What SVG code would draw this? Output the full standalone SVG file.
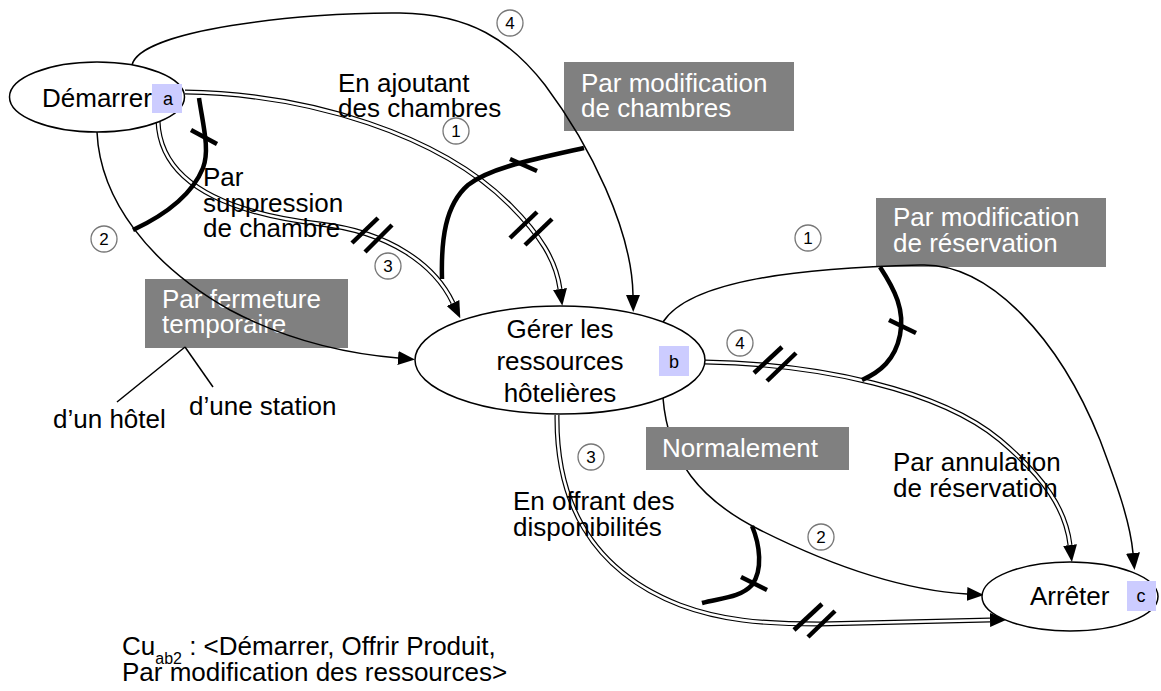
<svg xmlns="http://www.w3.org/2000/svg" width="1161" height="691" viewBox="0 0 1161 691">
<style>
text{font-family:"Liberation Sans",Arial,sans-serif;fill:#000}
.t{font-size:26px}
.w{font-size:26px;fill:#fff}
.mid{text-anchor:middle}
.tag{font-size:18px;text-anchor:middle}
.num{font-size:17px;text-anchor:middle}
.node{fill:#fff;stroke:#000;stroke-width:1.5}
.tagbox{fill:#ccccff}
.gbox{fill:#808080}
.thin{fill:none;stroke:#000;stroke-width:1.5}
.heavy{fill:none;stroke:#000;stroke-width:4.5}
.dblo{fill:none;stroke:#000;stroke-width:5}
.dbli{fill:none;stroke:#fff;stroke-width:2.6}
.tick{stroke:#000;stroke-width:4.5}
.circ{fill:#fff;stroke:#777;stroke-width:1.3}
.lead{stroke:#000;stroke-width:1.5}
</style>
<defs>
<marker id="arr" markerWidth="17" markerHeight="14" refX="0" refY="7" orient="auto" markerUnits="userSpaceOnUse"><path d="M0,0 L17,7 L0,14 z" fill="#000"/></marker>
</defs>

<g id="label-fermeture">
<rect class="gbox" x="145" y="279" width="203" height="69"/>
<text class="w" x="162" y="308">Par fermeture</text>
<text class="w" x="162" y="333">temporaire</text>
<line class="lead" x1="185" y1="347" x2="117" y2="402"/>
<line class="lead" x1="185" y1="347" x2="213" y2="387"/>
<text class="t" x="53" y="428">d’un hôtel</text>
<text class="t" x="189" y="415">d’une station</text>
</g>
<g id="label-modif-chambres">
<rect class="gbox" x="564" y="62" width="230" height="69"/>
<text class="w" x="581" y="92">Par modification</text>
<text class="w" x="581" y="117">de chambres</text>
</g>
<g id="label-modif-reservation">
<rect class="gbox" x="876" y="198" width="230" height="69"/>
<text class="w" x="893" y="226">Par modification</text>
<text class="w" x="893" y="252">de réservation</text>
</g>

<g id="connectors">
<!-- 4 top: Demarrer -> Gerer -->
<path class="thin" d="M132,65 C140,30 300,12 400,13 C470,14 510,40 545,85 C590,145 632,230 633,295" marker-end="url(#arr)"/>
<!-- 1 double: Demarrer -> Gerer -->
<path class="dblo" d="M185,92 C310,94 440,135 510,205 C540,235 556,260 560,289" marker-end="url(#arr)"/>
<path class="dbli" d="M185,92 C310,94 440,135 510,205 C540,235 556,260 560,289"/>
<!-- 3 double: Demarrer -> Gerer -->
<path class="dblo" d="M158,121 C160,180 220,212 320,224 C390,232 435,265 453,303" marker-end="url(#arr)"/>
<path class="dbli" d="M158,121 C160,180 220,212 320,224 C390,232 435,265 453,303"/>
<!-- 2 thin: Demarrer -> Gerer -->
<path class="thin" d="M97,132 C100,200 150,265 230,310 C290,342 350,354 398,358" marker-end="url(#arr)"/>
<!-- heavy: par suppression -->
<path class="heavy" d="M199,98 C203,125 210,150 203,168 C192,195 165,215 133,230"/>
<!-- heavy: par modification de chambres -->
<path class="heavy" d="M584,148 C530,160 490,168 468,185 C445,205 441,240 442,279"/>
<!-- 1 right thin: Gerer -> Arreter -->
<path class="thin" d="M663,322 C690,280 800,268 920,265 C990,262 1060,340 1100,440 C1115,480 1130,520 1133,553" marker-end="url(#arr)"/>
<!-- 4 right double: Gerer -> Arreter -->
<path class="dblo" d="M705,362 C820,364 940,390 1000,440 C1045,478 1066,510 1070,545" marker-end="url(#arr)"/>
<path class="dbli" d="M705,362 C820,364 940,390 1000,440 C1045,478 1066,510 1070,545"/>
<!-- heavy: par modification de reservation -->
<path class="heavy" d="M880,267 C895,290 905,310 900,335 C895,360 880,372 862,380"/>
<!-- 2 normalement thin -->
<path class="thin" d="M663,398 C668,460 700,500 760,530 C830,565 900,590 967,594" marker-end="url(#arr)"/>
<!-- 3 bottom double -->
<path class="dblo" d="M557,415 C556,500 590,570 680,605 C720,620 760,624 820,624 L990,620" marker-end="url(#arr)"/>
<path class="dbli" d="M557,415 C556,500 590,570 680,605 C720,620 760,624 820,624 L990,620"/>
<!-- heavy: normalement cross -->
<path class="heavy" d="M752,526 C760,545 763,570 752,585 C740,598 720,598 702,603"/>
<!-- ticks -->
<line class="tick" x1="191" y1="130" x2="217" y2="144"/>
<line class="tick" x1="510" y1="159" x2="537" y2="171"/>
<line class="tick" x1="889" y1="320" x2="916" y2="333"/>
<line class="tick" x1="741" y1="577" x2="767" y2="590"/>
<line class="tick" x1="352" y1="243" x2="378" y2="218"/>
<line class="tick" x1="365" y1="252" x2="392" y2="225"/>
<line class="tick" x1="510" y1="238" x2="537" y2="212"/>
<line class="tick" x1="525" y1="245" x2="552" y2="219"/>
<line class="tick" x1="754" y1="373" x2="782" y2="347"/>
<line class="tick" x1="767" y1="381" x2="796" y2="353"/>
<line class="tick" x1="794" y1="630" x2="822" y2="604"/>
<line class="tick" x1="808" y1="637" x2="835" y2="611"/>
</g>

<g id="label-normalement">
<rect class="gbox" x="646" y="427" width="203" height="43"/>
<text class="w" x="662" y="457">Normalement</text>
</g>

<g id="node-demarrer">
<ellipse class="node" cx="97" cy="97" rx="87.5" ry="35"/>
<text class="t" x="42" y="107">Démarrer</text>
<rect class="tagbox" x="152" y="84" width="30" height="29"/>
<text class="tag" x="168" y="105">a</text>
</g>
<g id="node-gerer">
<ellipse class="node" cx="560" cy="360" rx="145" ry="54"/>
<text class="t mid" x="560" y="338">Gérer les</text>
<text class="t mid" x="560" y="370">ressources</text>
<text class="t mid" x="560" y="402">hôtelières</text>
<rect class="tagbox" x="659" y="346" width="30" height="30"/>
<text class="tag" x="674" y="368">b</text>
</g>
<g id="node-arreter">
<ellipse class="node" cx="1070" cy="596.5" rx="88" ry="34.5"/>
<text class="t" x="1030" y="605">Arrêter</text>
<rect class="tagbox" x="1127" y="581" width="29" height="30"/>
<text class="tag" x="1141" y="602">c</text>
</g>

<g id="edge-labels">
<text class="t" x="338" y="92">En ajoutant</text>
<text class="t" x="338" y="117">des chambres</text>
<text class="t" x="203" y="186">Par</text>
<text class="t" x="203" y="212">suppression</text>
<text class="t" x="203" y="237">de chambre</text>
<text class="t" x="893" y="471">Par annulation</text>
<text class="t" x="893" y="497">de réservation</text>
<text class="t" x="513" y="510">En offrant des</text>
<text class="t" x="513" y="536">disponibilités</text>
</g>

<g id="numbers">
<circle class="circ" cx="510" cy="23" r="13"/><text class="num" x="510" y="29">4</text>
<circle class="circ" cx="456" cy="131" r="13"/><text class="num" x="456" y="137">1</text>
<circle class="circ" cx="104" cy="239" r="13"/><text class="num" x="104" y="245">2</text>
<circle class="circ" cx="388" cy="266" r="13"/><text class="num" x="388" y="272">3</text>
<circle class="circ" cx="808" cy="238" r="13"/><text class="num" x="808" y="244">1</text>
<circle class="circ" cx="740" cy="343" r="13"/><text class="num" x="740" y="349">4</text>
<circle class="circ" cx="591" cy="457" r="13"/><text class="num" x="591" y="463">3</text>
<circle class="circ" cx="821" cy="537" r="13"/><text class="num" x="821" y="543">2</text>
</g>

<g id="caption">
<text class="t" x="122" y="655">Cu<tspan font-size="16" dy="9">ab2</tspan><tspan dy="-9"> : &lt;Démarrer, Offrir Produit,</tspan></text>
<text class="t" x="122" y="681">Par modification des ressources&gt;</text>
</g>
</svg>
